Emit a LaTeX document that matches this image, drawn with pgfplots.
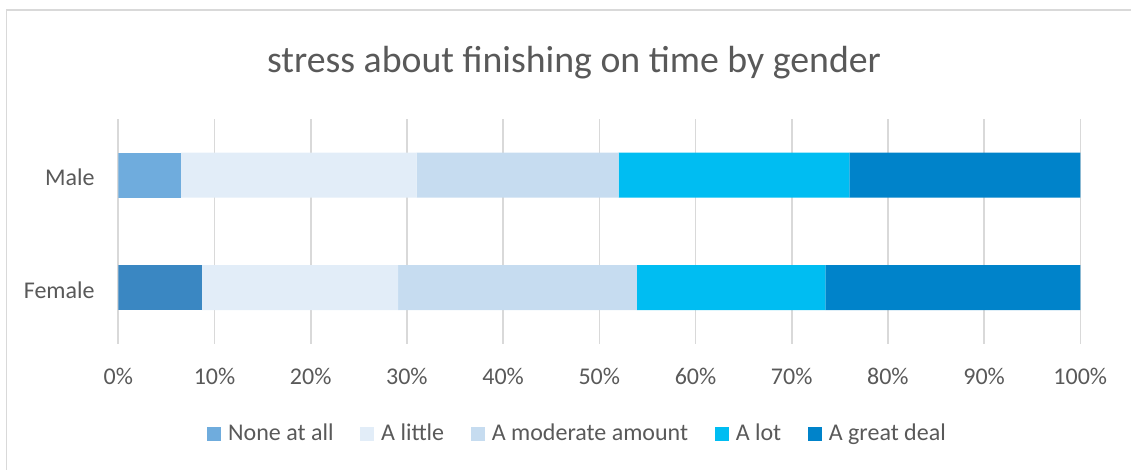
\documentclass[border=0pt]{standalone}
\usepackage{pgfplots}
\pgfplotsset{compat=1.18}
\usepackage{fontspec}
\setmainfont{Carlito}
\definecolor{frame}{HTML}{D9D9D9}
\definecolor{gridc}{HTML}{D9D9D9}
\definecolor{txt}{HTML}{595959}
\definecolor{noneM}{HTML}{6FACDD}
\definecolor{noneF}{HTML}{3A87C2}
\definecolor{little}{HTML}{E2EDF8}
\definecolor{moderate}{HTML}{C6DCF0}
\definecolor{alot}{HTML}{00BDF2}
\definecolor{great}{HTML}{0083CA}
\begin{document}
\begin{tikzpicture}[x=1pt,y=1pt]
\useasboundingbox (0,0) rectangle (565.5,235);
\begin{scope}
\clip (0,0) rectangle (565.5,235);
\draw[color=frame, line width=0.75pt] (3.3,-10) -- (3.3,230) -- (600,230);
\end{scope}
\node[font=\fontsize{18.9}{22}\selectfont, text=txt, anchor=base, inner sep=0pt] at (287,198.5) {stress about finishing on time by gender};
\begin{axis}[
  at={(59.15pt,63pt)}, anchor=south west, scale only axis,
  width=481pt, height=112.5pt,
  xbar stacked, bar width=22.5pt,
  xmin=0, xmax=100, ymin=-0.5, ymax=1.5,
  ytick={0,1}, yticklabels={Female,Male},
  xtick={0,10,...,100},
  xticklabel={\pgfmathprintnumber{\tick}\%},
  /pgf/number format/assume math mode=true,
  axis line style={draw=none}, major tick length=0pt,
  xmajorgrids, grid style={color=gridc, line width=0.8pt},
  tick label style={font=\fontsize{12}{14}\selectfont, text=txt},
  xticklabel style={anchor=base, yshift=-20.5pt, inner sep=0pt},
  yticklabel style={anchor=base east, xshift=-11.65pt, yshift=-5.25pt, inner sep=0pt},
  legend columns=5,
  legend style={at={(0.4763,-0.4)}, anchor=center, draw=none, fill=none,
    font=\fontsize{12}{14}\selectfont, text=txt,
    nodes={inner sep=0pt}, cells={anchor=west},
    /tikz/every odd column/.append style={column sep=3.5pt},
    /tikz/every even column/.append style={column sep=13.3pt}},
  legend image code/.code={\fill[#1] (0pt,-3.5pt) rectangle (7pt,3.5pt);},
]
\addplot[draw=none, fill=noneM] coordinates {(6.5,1) (0,0)};
\addlegendentry{None at all}
\addplot[draw=none, fill=noneF, forget plot] coordinates {(0,1) (8.7,0)};
\addplot[draw=none, fill=little] coordinates {(24.5,1) (20.4,0)};
\addlegendentry{A little}
\addplot[draw=none, fill=moderate] coordinates {(21.0,1) (24.8,0)};
\addlegendentry{A moderate amount}
\addplot[draw=none, fill=alot] coordinates {(24.0,1) (19.6,0)};
\addlegendentry{A lot}
\addplot[draw=none, fill=great] coordinates {(24.0,1) (26.5,0)};
\addlegendentry{A great deal}
\end{axis}
\end{tikzpicture}
\end{document}
